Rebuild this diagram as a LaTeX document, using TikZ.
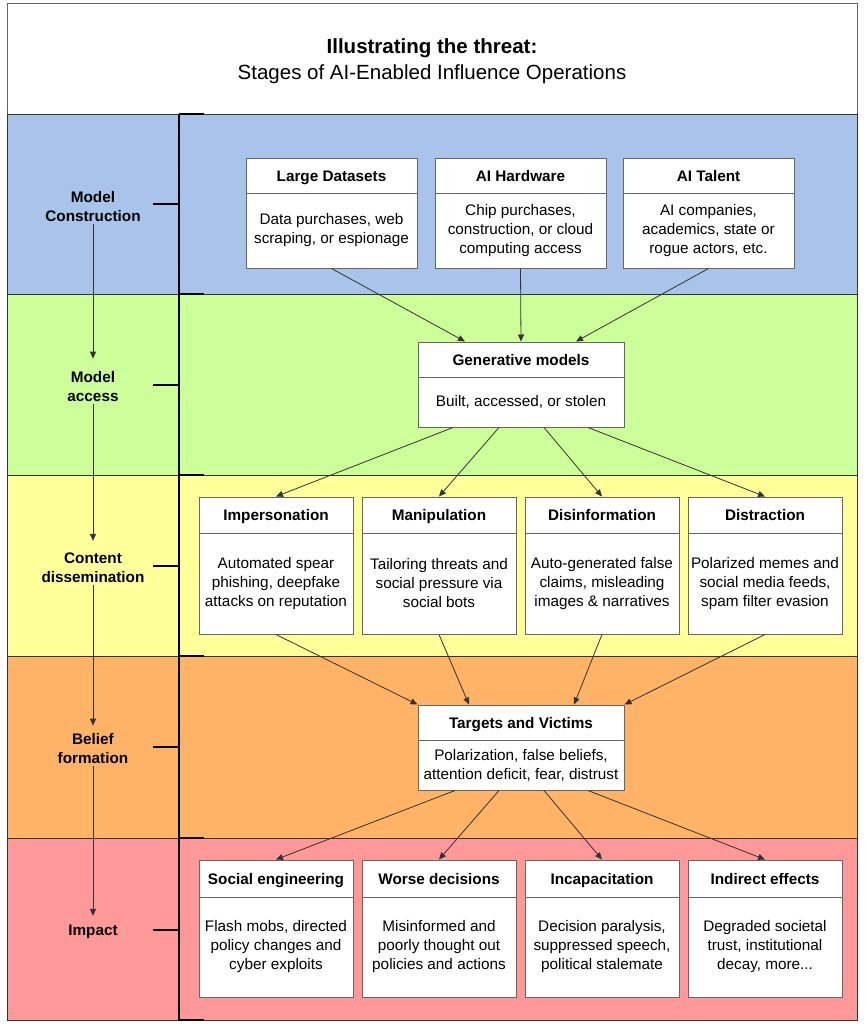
\documentclass[tikz,border=0pt]{standalone}
\usepackage{fontspec}
\setmainfont{Liberation Sans}
\usetikzlibrary{arrows.meta}
\definecolor{bandblue}{HTML}{A9C4EB}
\definecolor{bandgreen}{HTML}{CCFF99}
\definecolor{bandyellow}{HTML}{FFFF99}
\definecolor{bandorange}{HTML}{FFB366}
\definecolor{bandpink}{HTML}{FF9999}
\definecolor{edgecol}{HTML}{333333}
\definecolor{boxline}{HTML}{666666}
\tikzset{
  band/.style={draw=edgecol, line width=0.9pt},
  card/.style={draw=boxline, fill=white, line width=1pt, inner sep=0pt},
  cardtitle/.style={font=\fontsize{15.3}{19}\selectfont\bfseries, align=center, inner sep=0pt, text height=11pt, text depth=3pt, yshift=-1.5pt},
  cardbody/.style={font=\fontsize{15.3}{19}\selectfont, align=center, inner sep=0pt},
  stagelabel/.style={font=\fontsize{15.3}{19}\selectfont\bfseries, align=center, inner sep=0pt},
  arr/.style={draw=edgecol, line width=0.8pt, -{Triangle[length=7pt,width=6pt]}},
  bracket/.style={draw=black, line width=1.5pt},
}
\newcommand{\cardbox}[8]{%
  \node[card, minimum width={#4-#2}, minimum height={#5-#3}] (#1) at ({(#2+#4)/2},{(#3+#5)/2}) {};
  \draw[boxline, line width=1pt] (#2,#6) -- (#4,#6);
  \node[cardtitle] (#1t) at ({(#2+#4)/2},{(#3+#6)/2}) {#7};
  \node[cardbody] (#1b) at ({(#2+#4)/2},{(#6+#5)/2}) {#8};
}
\begin{document}
\begin{tikzpicture}[x=1pt,y=-1pt]
\useasboundingbox (0,0) rectangle (866,1031);
% title
\draw[draw=boxline, fill=white, line width=1pt] (7,3) rectangle (857,114);
\node[font=\fontsize{20.5}{26}\selectfont, align=center, inner sep=0pt] (title) at (432,61.5)
  {\textbf{Illustrating the threat:}\\Stages of AI-Enabled Influence Operations};
% bands
\draw[band, fill=bandblue]   (7,114) rectangle (857,294);
\draw[band, fill=bandgreen]  (7,294) rectangle (857,475);
\draw[band, fill=bandyellow] (7,475) rectangle (857,656);
\draw[band, fill=bandorange] (7,656) rectangle (857,838);
\draw[band, fill=bandpink]   (7,838) rectangle (857,1020);
% bracket
\draw[bracket] (179,114) -- (179,1020);
\foreach \yy in {114,294,475,656,838,1020} \draw[bracket] (179,\yy) -- (204,\yy);
\foreach \yy in {204,385,566,747,930} \draw[draw=black, line width=1.2pt] (153,\yy) -- (179,\yy);
% stage labels
\node[stagelabel] (s1) at (93,207) {Model\\Construction};
\node[stagelabel] (s2) at (93,387) {Model\\access};
\node[stagelabel] (s3) at (93,568) {Content\\dissemination};
\node[stagelabel] (s4) at (93,749) {Belief\\formation};
\node[stagelabel] (s5) at (93,932) {Impact};
\draw[arr, shorten <=2pt, shorten >=13pt] (s1.south) -- (s2.north);
\draw[arr, shorten <=2pt, shorten >=12pt] (s2.south) -- (s3.north);
\draw[arr, shorten <=2pt, shorten >=8pt] (s3.south) -- (s4.north);
\draw[arr, shorten <=2pt, shorten >=9pt] (s4.south) -- (s5.north);
% row 1
\cardbox{ld}{246}{158}{417}{268}{193}{Large Datasets}{Data purchases, web\\scraping, or espionage}
\cardbox{hw}{435}{158}{606}{268}{193}{AI Hardware}{Chip purchases,\\construction, or cloud\\computing access}
\cardbox{tal}{623}{158}{794}{268}{193}{AI Talent}{AI companies,\\academics, state or\\rogue actors, etc.}
% generative models
\cardbox{gen}{418}{342}{624}{427}{377}{Generative models}{Built, accessed, or stolen}
% row 3
\cardbox{imp}{199}{497}{353}{634}{533}{Impersonation}{Automated spear\\phishing, deepfake\\attacks on reputation}
\cardbox{man}{362}{497}{516}{634}{533}{Manipulation}{Tailoring threats and\\social pressure via\\social bots}
\cardbox{dis}{525}{497}{679}{634}{533}{Disinformation}{Auto-generated false\\claims, misleading\\images \& narratives}
\cardbox{dst}{688}{497}{842}{634}{533}{Distraction}{Polarized memes and\\social media feeds,\\spam filter evasion}
% targets
\cardbox{tv}{418}{705}{624}{790}{740}{Targets and Victims}{Polarization, false beliefs,\\attention deficit, fear, distrust}
% row 5
\cardbox{se}{199}{860}{353}{997}{897}{Social engineering}{Flash mobs, directed\\policy changes and\\cyber exploits}
\cardbox{wd}{362}{860}{516}{997}{897}{Worse decisions}{Misinformed and\\poorly thought out\\policies and actions}
\cardbox{inc}{525}{860}{679}{997}{897}{Incapacitation}{Decision paralysis,\\suppressed speech,\\political stalemate}
\cardbox{ind}{688}{860}{842}{997}{897}{Indirect effects}{Degraded societal\\trust, institutional\\decay, more...}
% arrows row1 -> gen
\draw[arr] (ld.south) -- ([xshift=-56pt]gen.north);
\draw[arr] (hw.south) -- (gen.north);
\draw[arr] (tal.south) -- ([xshift=55pt]gen.north);
% gen -> row3
\draw[arr] ([xshift=-68pt]gen.south) -- (imp.north);
\draw[arr] ([xshift=-22pt]gen.south) -- (man.north);
\draw[arr] ([xshift=23pt]gen.south) -- (dis.north);
\draw[arr] ([xshift=67pt]gen.south) -- (dst.north);
% row3 -> targets
\draw[arr] (imp.south) -- (tv.north west);
\draw[arr] (man.south) -- ([xshift=-52pt]tv.north);
\draw[arr] (dis.south) -- ([xshift=53pt]tv.north);
\draw[arr] (dst.south) -- (tv.north east);
% targets -> row5
\draw[arr] ([xshift=-66pt]tv.south) -- (se.north);
\draw[arr] ([xshift=-22pt]tv.south) -- (wd.north);
\draw[arr] ([xshift=23pt]tv.south) -- (inc.north);
\draw[arr] ([xshift=67pt]tv.south) -- (ind.north);
\end{tikzpicture}
\end{document}
